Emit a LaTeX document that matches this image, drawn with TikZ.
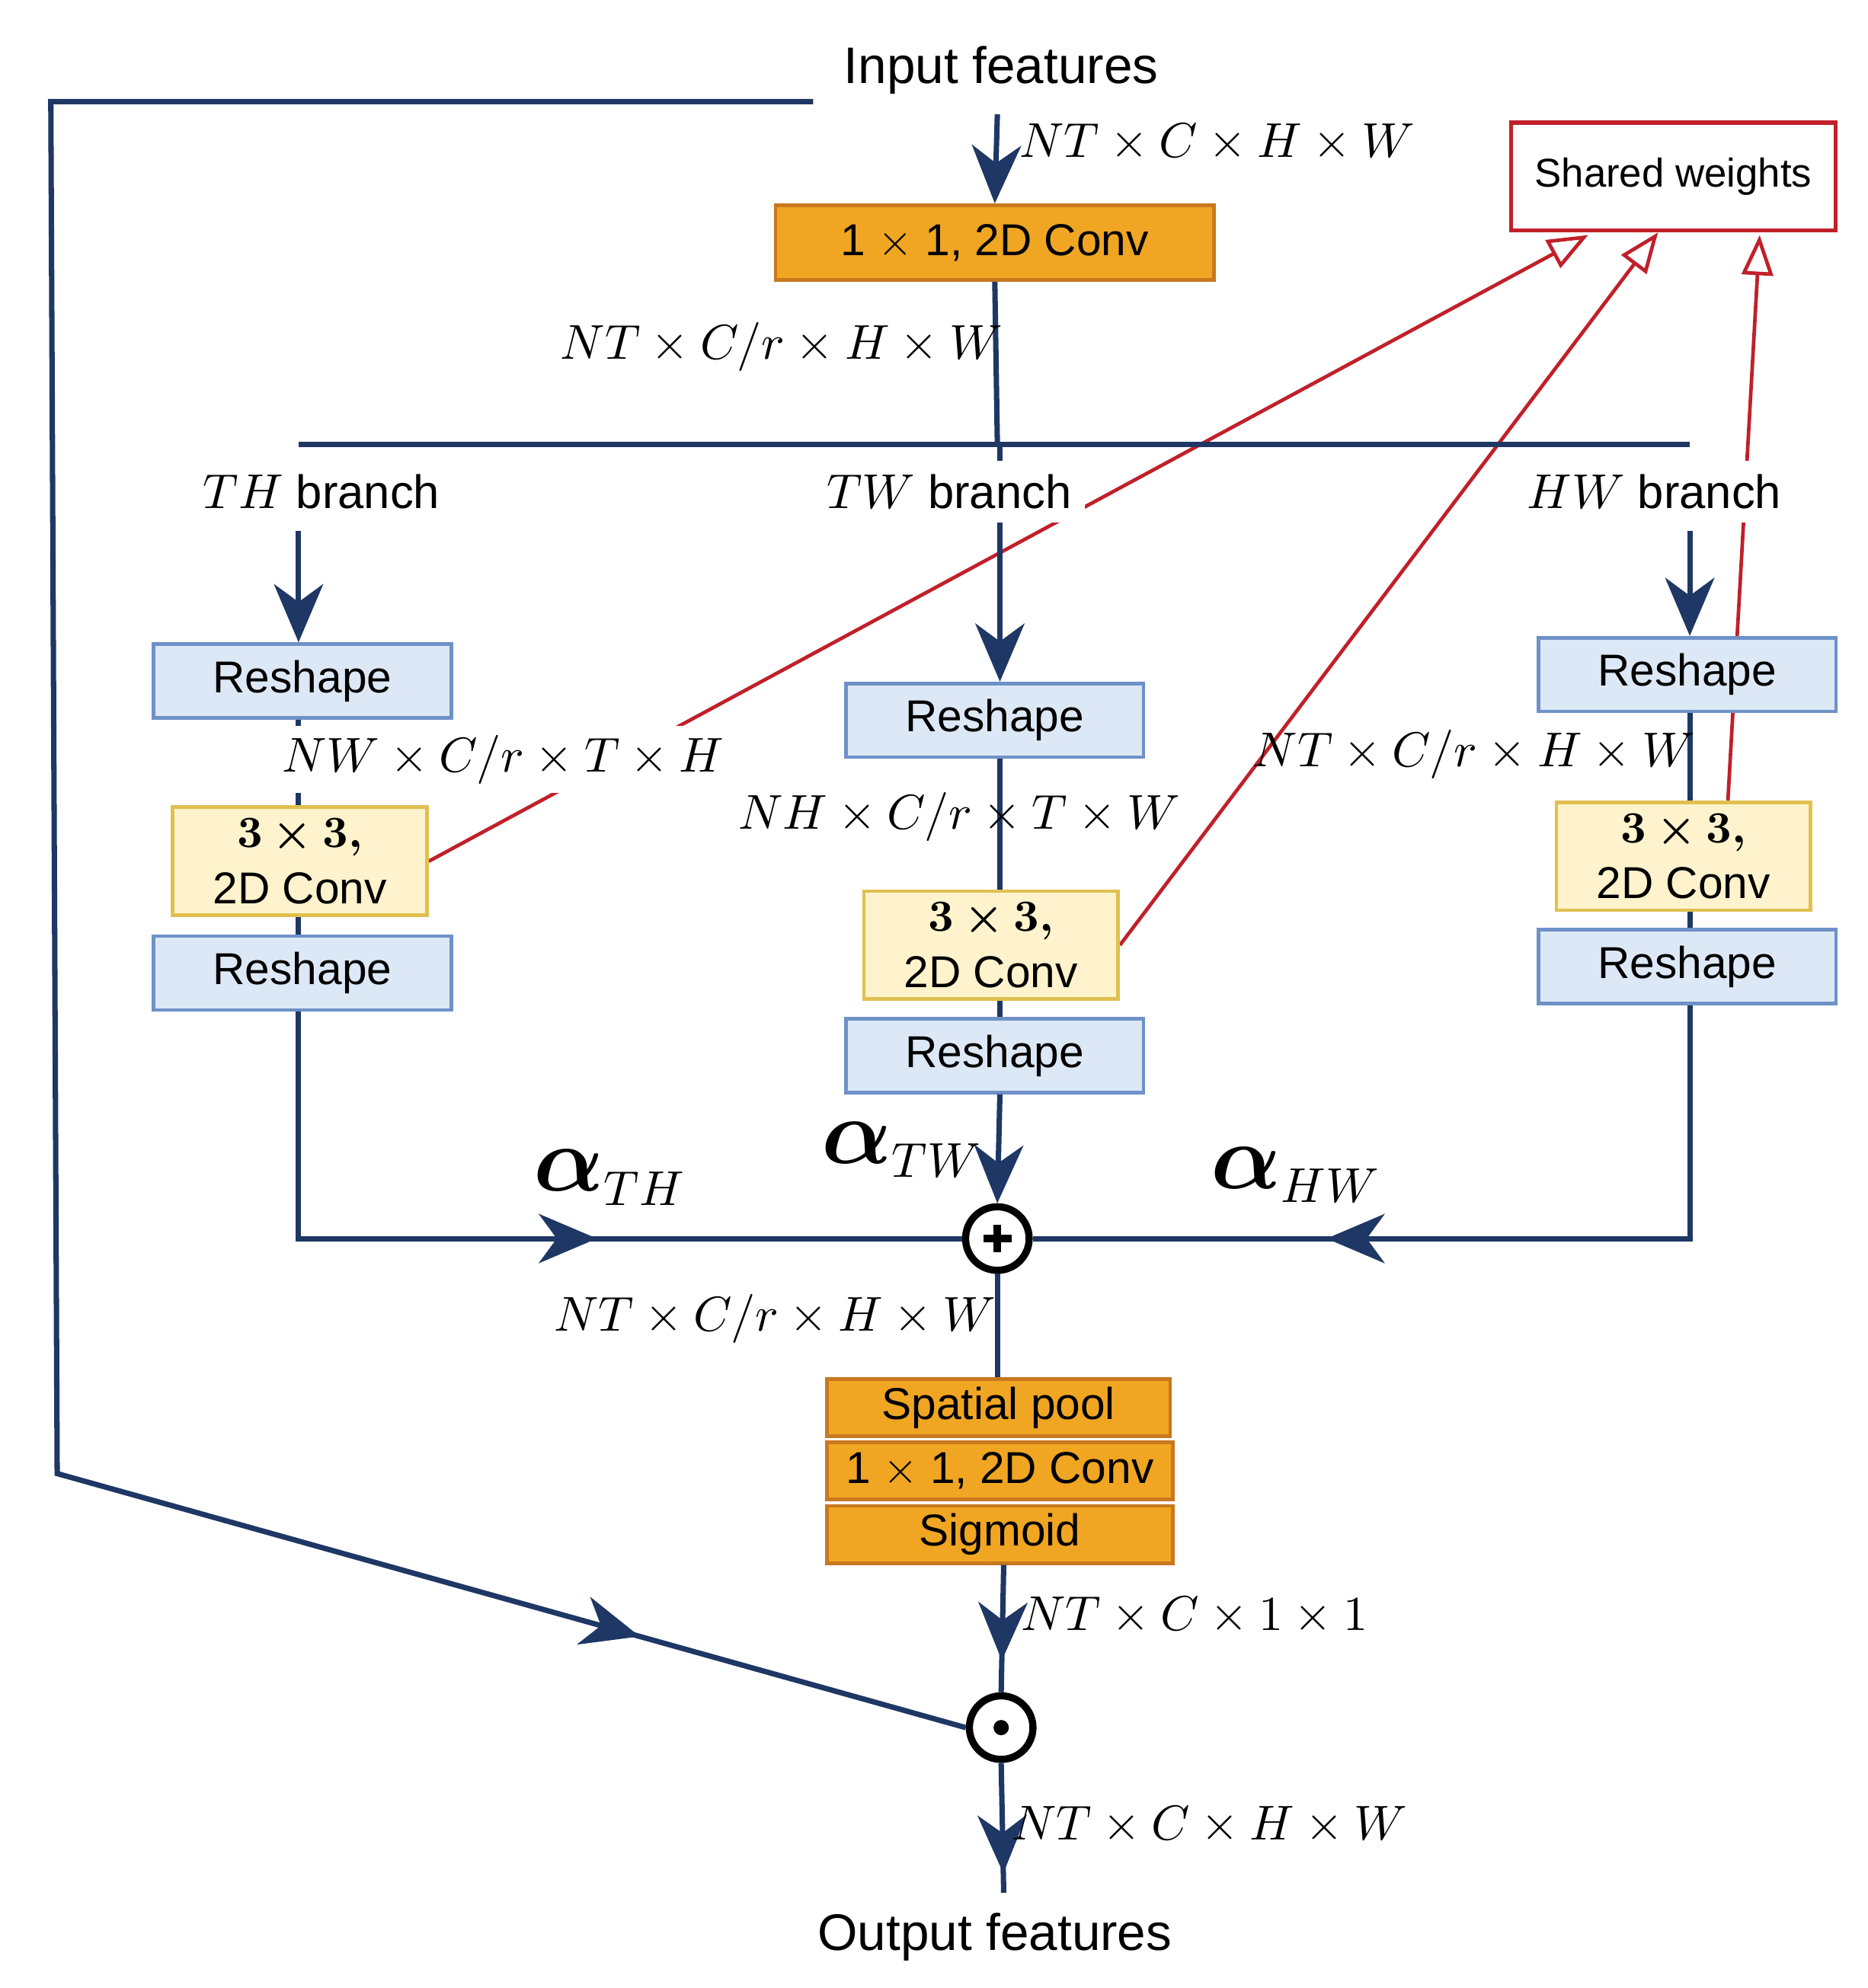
\documentclass[tikz,border=0pt]{standalone}
\usepackage[no-math]{fontspec}
\setmainfont{Liberation Sans}
\usepackage{amsmath,bm}
\usetikzlibrary{arrows.meta,decorations.markings,backgrounds}
\definecolor{bl}{RGB}{30,55,100}
\definecolor{rd}{RGB}{192,32,42}
\definecolor{og}{RGB}{240,166,34}
\definecolor{ogb}{RGB}{200,120,30}
\definecolor{yf}{RGB}{254,243,204}
\definecolor{yb}{RGB}{225,192,80}
\definecolor{rf}{RGB}{220,232,245}
\definecolor{rb}{RGB}{110,145,200}
\begin{document}
\begin{tikzpicture}[x=0.01cm,y=-0.01cm,
  big/.style={font=\fontsize{11.5}{13}\selectfont},
  lab/.style={font=\fontsize{10.5}{12}\selectfont, inner sep=1pt},
  bl/.style={draw=bl, line width=1.2pt},
  tip/.style={-{Stealth[length=13pt,width=11pt,inset=4pt]}},
  mid/.style={postaction={decorate},decoration={markings,mark=at position #1 with {\arrow{Stealth[length=13pt,width=11pt,inset=4pt]}}}},
  ob/.style={draw=ogb, fill=og, line width=0.8pt, minimum width=#1, minimum height=0.45cm, inner sep=0pt, font=\fontsize{10}{12}\selectfont},
  rs/.style={draw=rb, fill=rf, line width=0.8pt, minimum width=2.34cm, minimum height=0.58cm, inner sep=0pt, font=\fontsize{10}{12}\selectfont},
  cv/.style={draw=yb, fill=yf, line width=0.8pt, minimum width=2cm, minimum height=0.85cm, inner sep=0pt, align=center, font=\fontsize{10}{12.5}\selectfont},
  red/.style={draw=rd, line width=0.8pt, -{Triangle[open,length=9pt,width=7pt]}},
  circ/.style={circle, draw=black, line width=1.6pt, fill=white, minimum size=0.5cm, inner sep=0pt},
  al/.style={font=\fontsize{21}{23}\selectfont}
]
\useasboundingbox (0,0) rectangle (1470,1565);
% nodes
\node[big] (in) at (788,55) {Input features};
\coordinate (intop) at (785,90);
\node[ob=3.45cm, minimum height=0.59cm] (c1) at (783,191) {1 $\times$ 1, 2D Conv};
\coordinate (bar) at (785,350);
\coordinate (barL) at (235,350);
\coordinate (barR) at (1330,350);
\node[rs] (r1a) at (238,536) {Reshape};
\node[cv] (k1) at (236,678) {$\bm{3\times 3,}$\\2D Conv};
\node[rs] (r1b) at (238,766) {Reshape};
\node[rs] (r2a) at (783,567) {Reshape};
\node[cv] (k2) at (780,744) {$\bm{3\times 3,}$\\2D Conv};
\node[rs] (r2b) at (783,831) {Reshape};
\node[rs] (r3a) at (1328,531) {Reshape};
\node[cv] (k3) at (1325,674) {$\bm{3\times 3,}$\\2D Conv};
\node[rs] (r3b) at (1328,761) {Reshape};
\node[circ] (plus) at (785,975) {};
\draw[line width=1.6pt] (plus.center) ++(-11,0) -- ++(22,0) (plus.center) ++(0,-11) -- ++(0,22);
\node[ob=2.7cm] (sp) at (786,1108) {Spatial pool};
\node[ob=2.72cm] (c2) at (787,1158) {1 $\times$ 1, 2D Conv};
\node[ob=2.72cm] (sg) at (787,1208) {Sigmoid};
\node[circ] (dot) at (788,1360) {};
\fill (dot.center) circle (0.06cm);
\coordinate (outb) at (790,1490);
\node[big] (out) at (783,1525) {Output features};
\node[draw=rd, line width=0.9pt, minimum width=2.55cm, minimum height=0.85cm, font=\fontsize{9}{11}\selectfont] (sw) at (1317,139) {Shared weights};
% red lines (behind boxes)
\begin{scope}[on background layer]
\draw[red] (k1.east) -- (1250,185);
\draw[red] (k2.east) -- (1305,183);
\draw[red] (k3.north -| 1360,0) -- (1385,185);
\end{scope}
% blue
\draw[bl,tip] (intop) -- (c1.north);
\draw[bl] (c1.south) -- (bar);
\draw[bl] (barL) -- (barR);
\coordinate (t1) at (235,418);
\coordinate (t2) at (787,410);
\coordinate (t3) at (1330,418);
\draw[bl,tip] (t1) -- (r1a.north -| t1);
\draw[bl,tip] (t2) -- (r2a.north -| t2);
\draw[bl,tip] (t3) -- (r3a.north -| t3);
\draw[bl] (bar) -- (787,350) -- (t2);
\draw[bl] (r1a.south -| 235,0) -- (k1.north -| 235,0) (k1.south -| 235,0) -- (r1b.north -| 235,0);
\draw[bl] (r2a.south -| 787,0) -- (k2.north -| 787,0) (k2.south -| 787,0) -- (r2b.north -| 787,0);
\draw[bl] (r3a.south -| 1330,0) -- (k3.north -| 1330,0) (k3.south -| 1330,0) -- (r3b.north -| 1330,0);
\coordinate (cl) at (235,975);
\coordinate (cr) at (1330,975);
\draw[bl,mid=0.59] (r1b.south -| 235,0) -- (cl) -- (plus.west);
\draw[bl,mid=0.67] (r3b.south -| 1330,0) -- (cr) -- (plus.east);
\draw[bl,tip] (r2b.south -| 787,0) -- (plus.north);
\draw[bl] (plus.south) -- (sp.north -| plus.south);
\draw[bl,mid=0.75] (sg.south -| 790,0) -- (dot.north);
\draw[bl,mid=0.85] (dot.south) -- (outb);
\coordinate (f1) at (640,80);
\coordinate (f2) at (40,80);
\coordinate (f3) at (45,1160);
\draw[bl,mid=0.89] (f1) -- (f2) -- (f3) -- (dot.west);
% labels
\node[lab] at (958,112) {$NT\times C\times H\times W$};
\node[lab] at (615,273) {$NT\times C/r\times H\times W$};
\node[lab, fill=white, inner sep=3pt] at (253,387) {$TH$ branch};
\node[lab, fill=white, inner sep=3pt] at (747,387) {$TW$ branch};
\node[lab, fill=white, inner sep=3pt] at (1302,387) {$HW$ branch};
\node[lab, fill=white, inner sep=2pt] at (396,598) {$NW\times C/r\times T\times H$};
\node[lab] at (755,643) {$NH\times C/r\times T\times W$};
\node[lab] at (1160,594) {$NT\times C/r\times H\times W$};
\node[al] at (480,927) {$\bm{\alpha}_{\scriptscriptstyle TH}$};
\node[al] at (710,905) {$\bm{\alpha}_{\scriptscriptstyle TW}$};
\node[al] at (1020,925) {$\bm{\alpha}_{\scriptscriptstyle HW}$};
\node[lab] at (610,1038) {$NT\times C/r\times H\times W$};
\node[lab] at (940,1272) {$NT\times C\times 1\times 1$};
\node[lab] at (952,1437) {$NT\times C\times H\times W$};
\end{tikzpicture}
\end{document}
